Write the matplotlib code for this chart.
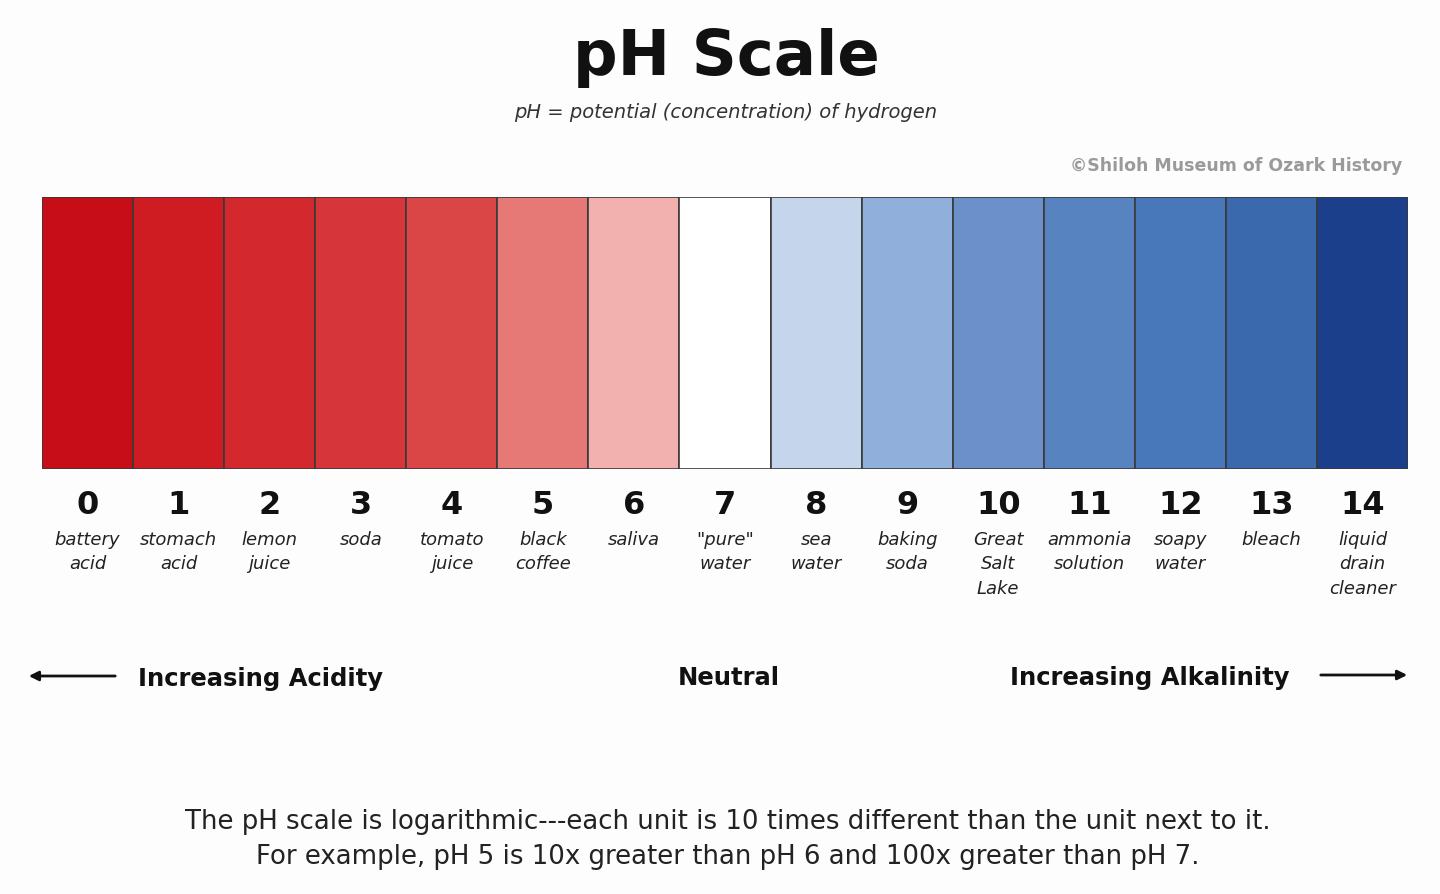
import matplotlib.pyplot as plt
import matplotlib

matplotlib.rcParams['font.family'] = ['DejaVu Sans']

ph = list(range(15))
colors = ['#c70e18', '#cf1c23', '#d3282d', '#d63639', '#da4646', '#e67875', '#f2b1af',
          '#ffffff', '#c5d6ec', '#90afda', '#6c90c9', '#5783c1', '#4877ba', '#3b69ad', '#1b3f8b']
names = ['battery\nacid', 'stomach\nacid', 'lemon\njuice', 'soda', 'tomato\njuice',
         'black\ncoffee', 'saliva', '"pure"\nwater', 'sea\nwater', 'baking\nsoda',
         'Great\nSalt\nLake', 'ammonia\nsolution', 'soapy\nwater', 'bleach',
         'liquid\ndrain\ncleaner']

W, H = 1440, 895
fig = plt.figure(figsize=(W / 100, H / 100), dpi=100)
fig.patch.set_facecolor('#fdfdfd')

# overlay axes in pixel coordinates for text
bg = fig.add_axes([0, 0, 1, 1])
bg.set_xlim(0, W)
bg.set_ylim(H, 0)
bg.axis('off')

# colour bar
ax = fig.add_axes([42 / W, 1 - 470 / H, 1366 / W, 272 / H])
ax.bar(ph, 1, width=1, color=colors, edgecolor='#3a3a3a', linewidth=1.2)
ax.set_xlim(-0.5, 14.5)
ax.set_ylim(0, 1)
ax.axis('off')

bg.text(726, 58, 'pH Scale', ha='center', va='center', fontsize=45, fontweight='bold', color='#111111')
bg.text(726, 112, 'pH = potential (concentration) of hydrogen', ha='center', va='center',
        fontsize=14, style='italic', color='#333333')
bg.text(1402, 166, '©Shiloh Museum of Ozark History', ha='right', va='center',
        fontsize=12.5, fontweight='bold', color='#9a9a9a')

# numbers and labels under each cell
for p, name in zip(ph, names):
    ax.annotate(str(p), xy=(p, 0), xycoords='data', xytext=(0, -36), textcoords='offset pixels',
                ha='center', va='center', fontsize=23, fontweight='bold', color='#111111')
    ax.annotate(name, xy=(p, 0), xycoords='data', xytext=(0, -61), textcoords='offset pixels',
                ha='center', va='top', fontsize=13, style='italic', color='#222222',
                linespacing=1.45)

bg.annotate('', xy=(26, 677), xytext=(118, 677),
            arrowprops=dict(arrowstyle='-|>', color='#111111', lw=2, mutation_scale=14))
bg.annotate('', xy=(1410, 676), xytext=(1318, 676),
            arrowprops=dict(arrowstyle='-|>', color='#111111', lw=2, mutation_scale=14))
bg.text(138, 679, 'Increasing Acidity', ha='left', va='center', fontsize=17.5, fontweight='bold', color='#111111')
bg.text(729, 678, 'Neutral', ha='center', va='center', fontsize=17.5, fontweight='bold', color='#111111')
bg.text(1290, 678, 'Increasing Alkalinity', ha='right', va='center', fontsize=17.5, fontweight='bold', color='#111111')

bg.text(728, 822, 'The pH scale is logarithmic---each unit is 10 times different than the unit next to it.',
        ha='center', va='center', fontsize=18.7, color='#222222')
bg.text(728, 857, 'For example, pH 5 is 10x greater than pH 6 and 100x greater than pH 7.',
        ha='center', va='center', fontsize=18.7, color='#222222')

fig.savefig('out.png', dpi=100, facecolor=fig.get_facecolor())
